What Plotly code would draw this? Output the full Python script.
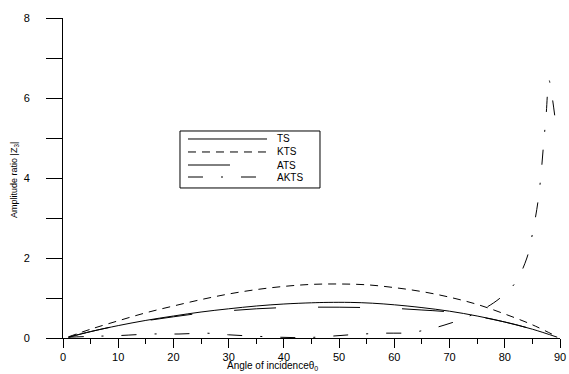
import plotly.graph_objects as go

# Angle of incidence (degrees) and amplitude ratio |Z3| for each model
ts_x = [1, 5, 10, 15, 20, 25, 30, 35, 40, 45, 48, 52, 56, 60, 65, 70, 75, 80, 85, 89.5]
ts_y = [0.02, 0.16, 0.31, 0.44, 0.55, 0.65, 0.73, 0.80, 0.85, 0.88, 0.89, 0.89, 0.87, 0.83, 0.76, 0.67, 0.55, 0.40, 0.22, 0.02]

kts_x = [1, 5, 10, 15, 20, 25, 30, 35, 40, 45, 50, 55, 60, 65, 70, 75, 80, 85, 89.5]
kts_y = [0.03, 0.22, 0.43, 0.63, 0.80, 0.96, 1.10, 1.21, 1.29, 1.34, 1.35, 1.33, 1.26, 1.16, 1.02, 0.84, 0.60, 0.33, 0.03]

ats_x = [1, 5, 10, 15, 20, 25, 30, 35, 40, 45, 50, 55, 60, 65, 70, 75, 80, 85, 89.5]
ats_y = [0.02, 0.16, 0.31, 0.43, 0.53, 0.62, 0.68, 0.73, 0.76, 0.77, 0.77, 0.76, 0.74, 0.70, 0.65, 0.54, 0.40, 0.22, 0.02]

akts_x = [1, 5, 10, 16, 21, 26, 30, 34, 39, 44, 49, 53, 58, 62.5, 66, 69, 72, 75, 78, 80, 82, 84, 85, 86, 86.5, 87, 87.5, 88.0, 88.5, 89.1]
akts_y = [0.02, 0.04, 0.06, 0.10, 0.10, 0.12, 0.08, 0.05, 0.02, 0.01, 0.05, 0.09, 0.12, 0.13, 0.21, 0.32, 0.46, 0.64, 0.88, 1.10, 1.40, 2.00, 2.60, 3.40, 4.00, 4.80, 5.60, 6.45, 6.10, 5.50]

series_names = ["TS", "KTS", "ATS", "AKTS"]
series_dash = ["solid", "8px,6px", "42px,42px", "15px,18px,2px,18px"]

y_ticks = [0, 2, 4, 6, 8]
x_ticks = [0, 10, 20, 30, 40, 50, 60, 70, 80, 90]

font_family = "Liberation Sans, Arial, sans-serif"

fig = go.Figure()
for xs, ys, name, dash in zip([ts_x, kts_x, ats_x, akts_x], [ts_y, kts_y, ats_y, akts_y],
                              series_names, series_dash):
    fig.add_trace(go.Scatter(x=xs, y=ys, name=name, mode="lines", line_shape="spline",
                             line=dict(color="black", width=1, dash=dash), showlegend=False))

# Compact boxed key drawn in paper coordinates
key_left, key_right, key_top, key_bottom = 0.2354, 0.5171, 0.6469, 0.4688
sample_x0, sample_x1, text_x = 0.2515, 0.4105, 0.4266
row_y = [0.6219, 0.5813, 0.5406, 0.5031]

shapes = [dict(type="rect", xref="paper", yref="paper",
               x0=key_left, x1=key_right, y0=key_bottom, y1=key_top,
               line=dict(color="black", width=1), fillcolor="white", layer="above")]
annotations = []
for name, dash, yy in zip(series_names, series_dash, row_y):
    shapes.append(dict(type="line", xref="paper", yref="paper",
                       x0=sample_x0, x1=sample_x1, y0=yy, y1=yy,
                       line=dict(color="black", width=1, dash=dash), layer="above"))
    annotations.append(dict(xref="paper", yref="paper", x=text_x, y=yy, text=name,
                            showarrow=False, xanchor="left", yanchor="middle",
                            font=dict(size=10, family=font_family, color="black")))

# Axis titles
annotations.append(dict(xref="paper", yref="paper", x=0.4225, y=-0.1125, text="Angle of incidenceθ<sub>0</sub>",
                        showarrow=False, xanchor="center", yanchor="bottom",
                        font=dict(size=10, family=font_family, color="black")))
annotations.append(dict(xref="paper", yref="paper", x=-0.0966, y=0.494, text="Amplitude ratio |Z<sub>3</sub>|",
                        showarrow=False, xanchor="center", yanchor="middle", textangle=-90,
                        font=dict(size=9, family=font_family, color="black")))

fig.update_layout(
    width=569, height=374,
    margin=dict(l=63, r=9, t=18, b=36),
    paper_bgcolor="white", plot_bgcolor="white",
    font=dict(family=font_family, size=11, color="black"),
    showlegend=False,
    shapes=shapes,
    annotations=annotations,
    xaxis=dict(
        range=[0, 90], tickvals=x_ticks, showgrid=False, zeroline=False,
        showline=True, linecolor="black", linewidth=1, automargin=False,
        ticks="outside", ticklen=9, tickwidth=1, tickcolor="black",
        minor=dict(dtick=5, ticks="outside", ticklen=5, tickwidth=1, tickcolor="black", showgrid=False),
        ticklabelstandoff=0,
        tickfont=dict(size=11),
    ),
    yaxis=dict(
        range=[0, 8], tickvals=y_ticks, showgrid=False, zeroline=False,
        showline=True, linecolor="black", linewidth=1, automargin=False,
        ticks="outside", ticklen=16, tickwidth=1, tickcolor="black",
        minor=dict(dtick=1, ticks="outside", ticklen=16, tickwidth=1, tickcolor="black", showgrid=False),
        ticklabelstandoff=14,
        tickfont=dict(size=11),
    ),
)

fig.write_html("out.html")
